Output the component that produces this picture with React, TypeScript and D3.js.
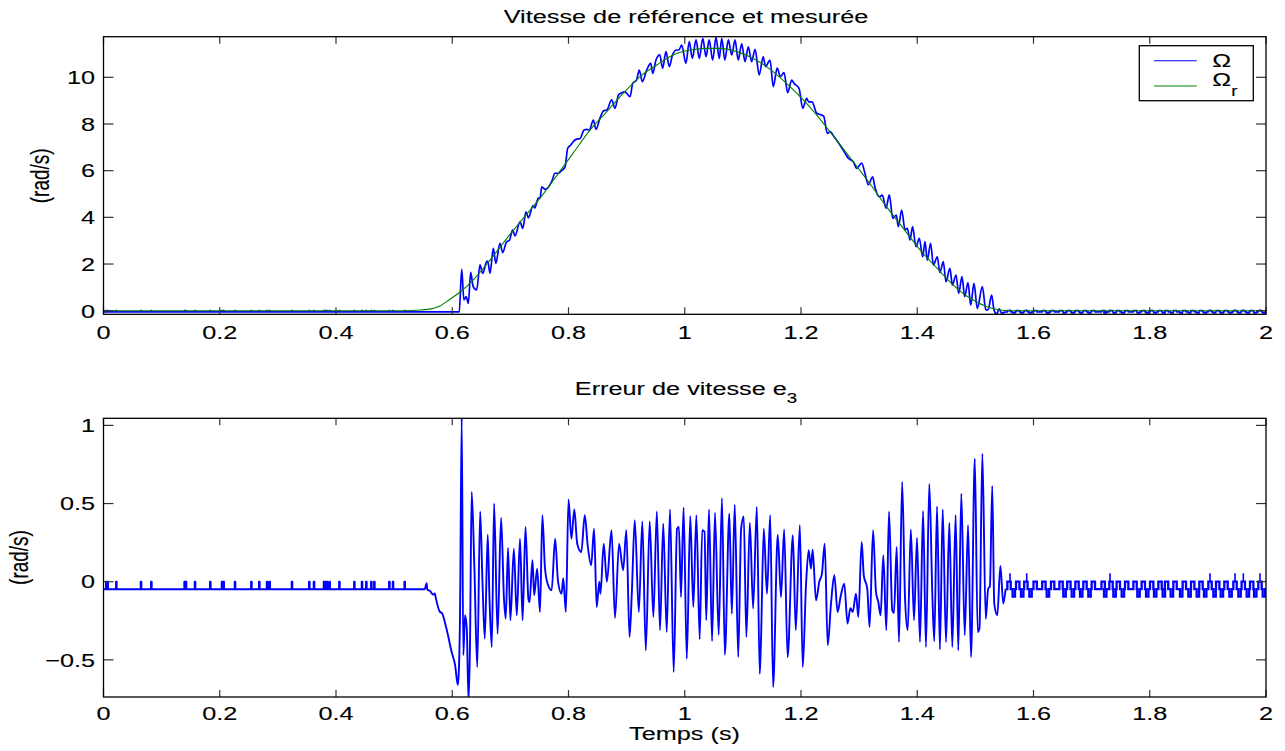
import React from "react";
import * as d3 from "d3";

type P = [number, number];

const W = 1285;
const H = 751;
const FONT = "'Liberation Sans', Arial, Helvetica, sans-serif";
const SX = 1.33; // horizontal stretch of the exported figure text

const X_TICKS = [0, 0.2, 0.4, 0.6, 0.8, 1, 1.2, 1.4, 1.6, 1.8, 2];
const X_TICK_LABELS = ["0", "0.2", "0.4", "0.6", "0.8", "1", "1.2", "1.4", "1.6", "1.8", "2"];
const TOP_Y_TICKS = [0, 2, 4, 6, 8, 10];
const TOP_Y_LABELS = ["0", "2", "4", "6", "8", "10"];
const BOT_Y_TICKS = [-0.5, 0, 0.5, 1];
const BOT_Y_LABELS = ["\u22120.5", "0", "0.5", "1"];

// Reference speed Omega_r (green)
const omegaRef: P[] = [
  [0, 0], [0.5, 0], [0.53, 0.01], [0.545, 0.03], [0.567, 0.1], [0.579, 0.2], [0.59, 0.39],
  [0.613, 0.79], [0.636, 1.315], [0.665, 2.17], [0.694, 3.1], [0.722, 3.96], [0.751, 4.82],
  [0.78, 5.8], [0.808, 6.75], [0.837, 7.74], [0.866, 8.53], [0.894, 9.31], [0.923, 10.03],
  [0.952, 10.53], [0.98, 10.96], [1.009, 11.17], [1.038, 11.24], [1.061, 11.24], [1.089, 11.1],
  [1.118, 10.81], [1.147, 10.34], [1.175, 9.74], [1.204, 9.03], [1.233, 8.2], [1.261, 7.31],
  [1.29, 6.38], [1.319, 5.43], [1.347, 4.46], [1.376, 3.53], [1.405, 2.6], [1.434, 1.82],
  [1.462, 1.1], [1.491, 0.53], [1.52, 0.17], [1.542, 0.03], [1.56, 0], [2, 0],
];

// Measured speed Omega (blue), active part (turning points)
const omegaActive: P[] = [
  [0.553, -0.05], [0.612, -0.05], [0.6163, 1.77], [0.62, 0.46], [0.624, 0.6], [0.6277, 0.32],
  [0.6317, 1.64], [0.636, 1.03], [0.642, 0.89], [0.6477, 1.96], [0.6523, 1.6], [0.659, 2.1],
  [0.661, 2.13], [0.665, 1.6], [0.6706, 2.67], [0.675, 2.03], [0.682, 2.89], [0.6868, 2.49],
  [0.6937, 2.96], [0.698, 3.0], [0.704, 3.46], [0.708, 3.2], [0.7166, 3.81], [0.7212, 3.53],
  [0.7269, 4.24], [0.731, 3.98], [0.739, 4.5], [0.742, 4.4], [0.748, 4.82], [0.751, 4.82],
  [0.754, 5.31], [0.76, 5.2], [0.771, 5.53], [0.7768, 5.89], [0.782, 5.89], [0.788, 6.0],
  [0.794, 6.15], [0.7986, 6.96], [0.804, 7.1], [0.808, 7.24], [0.814, 7.35], [0.82, 7.38],
  [0.8267, 7.74], [0.8313, 7.77], [0.836, 7.74], [0.8427, 8.17], [0.8473, 7.77], [0.854, 8.24],
  [0.86, 8.56], [0.866, 8.6], [0.8743, 9.03], [0.88, 8.67], [0.886, 9.24], [0.8915, 9.34],
  [0.897, 9.38], [0.906, 9.17], [0.9105, 9.74], [0.917, 9.88], [0.9218, 10.31], [0.927, 9.81],
  [0.9345, 10.31], [0.9414, 10.6], [0.945, 10.17], [0.9505, 10.74], [0.957, 10.96], [0.962, 10.39],
  [0.9677, 11.1], [0.9734, 10.46], [0.979, 10.96], [0.986, 11.17], [0.99, 11.17], [0.9947, 11.38],
  [1.002, 10.6], [1.0078, 11.53], [1.013, 10.81], [1.0194, 11.6], [1.025, 10.81], [1.031, 11.67],
  [1.0366, 10.88], [1.042, 11.6], [1.048, 10.74], [1.0538, 11.71], [1.0594, 10.81], [1.0636, 11.67],
  [1.069, 10.74], [1.075, 11.6], [1.0808, 10.96], [1.0865, 11.6], [1.092, 10.74], [1.098, 11.43],
  [1.1037, 10.67], [1.1094, 11.31], [1.115, 10.67], [1.121, 11.2], [1.128, 10.1], [1.135, 10.88],
  [1.139, 10.46], [1.1467, 10.74], [1.1523, 9.6], [1.159, 10.39], [1.1645, 10.03], [1.1708, 10.2],
  [1.177, 9.34], [1.184, 9.88], [1.188, 9.74], [1.1966, 9.53], [1.203, 8.67], [1.2098, 9.1],
  [1.213, 8.95], [1.219, 8.95], [1.227, 8.46], [1.2356, 8.38], [1.239, 8.34], [1.2453, 7.6],
  [1.25, 7.67], [1.257, 7.45], [1.267, 7.1], [1.276, 6.74], [1.2814, 6.53], [1.29, 6.38],
  [1.2958, 6.1], [1.3044, 6.32], [1.31, 5.89], [1.3158, 5.39], [1.3233, 5.74], [1.327, 5.31],
  [1.3348, 4.88], [1.34, 4.95], [1.3462, 4.39], [1.352, 4.96], [1.3578, 3.96], [1.364, 4.1],
  [1.3674, 3.6], [1.3732, 4.31], [1.379, 3.46], [1.383, 3.53], [1.3875, 3.03], [1.392, 3.6],
  [1.3978, 2.74], [1.4035, 3.1], [1.4094, 2.31], [1.4133, 2.96], [1.4173, 2.17], [1.423, 2.89],
  [1.4277, 1.96], [1.4345, 2.31], [1.439, 1.63], [1.4448, 2.1], [1.4494, 1.24], [1.4563, 1.82],
  [1.4603, 1.1], [1.4667, 1.53], [1.4713, 0.745], [1.477, 1.46], [1.4816, 0.6], [1.4873, 1.2],
  [1.492, 0.24], [1.4976, 1.17], [1.5033, 0.1], [1.512, 1.03], [1.518, 0.03], [1.522, 0.05],
  [1.528, 0.67], [1.532, 0.03], [1.5367, -0.14], [1.541, 0.08], [1.545, -0.1], [1.552, -0.05],
];

// Speed error e3 (blue), active part (turning points)
const e3Active: P[] = [
  [0.553, -0.049], [0.556, -0.01], [0.557, -0.05], [0.562, -0.06], [0.567, -0.083], [0.57, -0.075],
  [0.572, -0.11], [0.579, -0.194], [0.582, -0.2], [0.59, -0.3], [0.599, -0.45], [0.605, -0.535],
  [0.6095, -0.66], [0.611, -0.6], [0.6133, -0.237], [0.6163, 1.05], [0.619, -0.47], [0.622, -0.215],
  [0.625, -0.3], [0.628, -0.76], [0.6305, -0.41], [0.6334, 0.574], [0.638, 0.1], [0.643, -0.546],
  [0.648, 0.45], [0.652, 0.0], [0.656, -0.365], [0.661, 0.3], [0.664, -0.1], [0.668, -0.418],
  [0.672, 0.5], [0.678, -0.333], [0.684, 0.41], [0.689, -0.109], [0.692, -0.237], [0.696, 0.216],
  [0.7, -0.247], [0.706, 0.211], [0.711, -0.215], [0.7166, 0.275], [0.721, -0.247], [0.726, 0.35],
  [0.731, -0.109], [0.733, -0.13], [0.738, 0.137], [0.741, -0.087], [0.746, 0.083], [0.751, -0.194],
  [0.755, 0.425], [0.7596, 0.083], [0.765, -0.023], [0.771, -0.055], [0.777, 0.275], [0.782, 0.0],
  [0.788, -0.077], [0.791, 0.02], [0.7955, -0.194], [0.8, 0.527], [0.805, 0.275], [0.81, 0.463],
  [0.815, 0.243], [0.822, 0.19], [0.828, 0.425], [0.833, 0.233], [0.839, 0.105], [0.844, 0.339],
  [0.8485, -0.162], [0.853, 0.0], [0.855, -0.077], [0.8606, 0.243], [0.866, 0.0], [0.874, 0.329],
  [0.88, -0.232], [0.887, 0.243], [0.894, 0.073], [0.8995, 0.329], [0.905, -0.354], [0.909, -0.066],
  [0.914, 0.393], [0.921, -0.194], [0.927, 0.386], [0.933, -0.439], [0.9397, 0.386], [0.946, -0.226],
  [0.952, 0.45], [0.9574, -0.311], [0.963, 0.371], [0.969, -0.322], [0.9746, 0.463], [0.981, -0.578],
  [0.9867, 0.339], [0.99, 0.35], [0.9935, -0.098], [0.998, 0.473], [1.0035, -0.493], [1.0095, 0.42],
  [1.0147, -0.162], [1.02, 0.425], [1.0257, -0.369], [1.03, 0.329], [1.034, 0.32], [1.037, -0.247],
  [1.0417, 0.463], [1.047, -0.38], [1.052, 0.44], [1.0584, -0.339], [1.064, 0.535], [1.069, -0.467],
  [1.0767, 0.435], [1.081, -0.205], [1.086, 0.493], [1.092, -0.482], [1.097, 0.339], [1.1015, 0.418],
  [1.106, -0.354], [1.112, 0.378], [1.1176, -0.172], [1.124, 0.478], [1.129, -0.589], [1.131, -0.4],
  [1.136, 0.339], [1.1415, -0.077], [1.147, 0.425], [1.152, -0.674], [1.16, 0.3], [1.1656, -0.098],
  [1.171, 0.335], [1.177, -0.482], [1.186, 0.297], [1.191, -0.311], [1.198, 0.361], [1.203, -0.546],
  [1.2086, -0.023], [1.2132, 0.201], [1.2172, 0.083], [1.22, 0.207], [1.2258, -0.119], [1.2315, 0.0],
  [1.236, 0.05], [1.2408, 0.243], [1.246, -0.407], [1.2516, -0.141], [1.2573, 0.041], [1.263, -0.194],
  [1.268, -0.098], [1.2745, -0.013], [1.28, -0.268], [1.285, -0.17], [1.289, -0.194], [1.2946, -0.077],
  [1.2986, -0.226], [1.3044, 0.254], [1.308, 0.041], [1.314, -0.045], [1.318, -0.29], [1.324, 0.329],
  [1.329, -0.066], [1.333, -0.13], [1.337, -0.215], [1.3416, 0.169], [1.3468, -0.311], [1.3514, 0.45],
  [1.357, -0.183], [1.36, -0.2], [1.3646, 0.222], [1.3686, -0.386], [1.374, 0.638], [1.379, -0.109],
  [1.3836, -0.311], [1.389, 0.335], [1.3944, -0.247], [1.3996, 0.28], [1.4047, -0.386], [1.41, 0.452],
  [1.415, -0.418], [1.4207, 0.625], [1.426, -0.087], [1.4293, -0.381], [1.434, 0.482], [1.439, -0.433],
  [1.4438, 0.463], [1.4495, -0.386], [1.4552, 0.378], [1.4603, -0.418], [1.466, 0.425], [1.4706, -0.439],
  [1.4758, 0.563], [1.4817, -0.343], [1.4874, 0.361], [1.4925, -0.482], [1.499, 0.787], [1.504, -0.322],
  [1.507, -0.3], [1.512, 0.819], [1.5178, -0.237], [1.522, -0.045], [1.525, -0.03], [1.529, 0.612],
  [1.5325, -0.141], [1.5377, -0.215], [1.543, 0.1], [1.548, -0.14], [1.552, -0.048],
];

// Quantised idle parts (before motion / after stop)
const idleBase = -0.048;
const idleUpLevel = 0;
const idleDownLevel = -0.096;
const idleSpikeLevel = 0.054;
const preSpikes = [
  0.0043, 0.0066, 0.0215, 0.064, 0.0817, 0.139, 0.1414, 0.1569, 0.1832, 0.2033, 0.2062, 0.2257,
  0.2538, 0.2675, 0.2808, 0.2853, 0.3237, 0.3535, 0.3616, 0.3788, 0.381, 0.384, 0.3885, 0.4052,
  0.431, 0.4442, 0.4516, 0.4602, 0.4654, 0.4912, 0.4975, 0.5176,
];
const tailUp = [
  1.555, 1.57, 1.584, 1.6, 1.615, 1.63, 1.6445, 1.658, 1.672, 1.6857, 1.7, 1.717, 1.7305, 1.743,
  1.7574, 1.7718, 1.786, 1.8004, 1.8148, 1.826, 1.8406, 1.8566, 1.871, 1.8853, 1.9008, 1.914,
  1.9283, 1.9438, 1.958, 1.9725, 1.9868,
];
const tailDown = [
  1.564, 1.5785, 1.5928, 1.6227, 1.6513, 1.6657, 1.68, 1.6943, 1.7213, 1.7374, 1.7517, 1.7786,
  1.7936, 1.8073, 1.8222, 1.836, 1.852, 1.8664, 1.8807, 1.8933, 1.9094, 1.922, 1.9369, 1.9524,
  1.9667, 1.9794, 1.9943,
];
const tailSpikes = [1.5596, 1.5883, 1.7316, 1.9037, 1.9467, 1.961, 1.9897];

type Ev = { t: number; w: number; v: number };
function idleSeries(t0: number, t1: number, events: Ev[]): P[] {
  const pts: P[] = [[t0, idleBase]];
  events
    .slice()
    .sort((a, b) => a.t - b.t)
    .forEach((e) => {
      pts.push([e.t, idleBase], [e.t, e.v], [e.t + e.w, e.v], [e.t + e.w, idleBase]);
    });
  pts.push([t1, idleBase]);
  return pts;
}

const preEvents: Ev[] = preSpikes.map((t) => ({ t, w: 0.0012, v: idleUpLevel }));
const tailEvents: Ev[] = [
  ...tailUp.map((t) => ({ t, w: 0.0058, v: idleUpLevel })),
  ...tailDown.map((t) => ({ t, w: 0.0042, v: idleDownLevel })),
];
const preIdle = idleSeries(0, 0.553, preEvents);
const tailIdle = idleSeries(1.552, 2, tailEvents);

const X0 = 103.5;
const X1 = 1266;
const TOP = { y0: 36.7, y1: 314.3, dom: [-0.154, 11.74] as [number, number] };
const BOT = { y0: 418.3, y1: 697, dom: [-0.7377, 1.0454] as [number, number] };

function T(props: {
  x: number;
  y: number;
  anchor?: string;
  size?: number;
  rotate?: boolean;
  children: React.ReactNode;
}) {
  const { x, y, anchor = "middle", size = 19, rotate = false, children } = props;
  const tr = `translate(${x},${y}) scale(${SX},1)` + (rotate ? " rotate(-90)" : "");
  return (
    <text
      transform={tr}
      textAnchor={anchor as any}
      fontSize={size}
      fontFamily={FONT}
      fill="#000"
      stroke="#000"
      strokeWidth={0.12}
    >
      {children}
    </text>
  );
}

function Axes(props: {
  y0: number;
  y1: number;
  yScale: d3.ScaleLinear<number, number>;
  xScale: d3.ScaleLinear<number, number>;
  yTicks: number[];
  yLabels: string[];
  labelBaseline: number;
}) {
  const { y0, y1, yScale, xScale, yTicks, yLabels, labelBaseline } = props;
  return (
    <g>
      {X_TICKS.map((t, i) => (
        <g key={"xt" + i}>
          <line x1={xScale(t)} x2={xScale(t)} y1={y1} y2={y1 - 7} stroke="#333" strokeWidth={1.2} />
          <line x1={xScale(t)} x2={xScale(t)} y1={y0} y2={y0 + 7} stroke="#333" strokeWidth={1.2} />
          <T x={xScale(t)} y={labelBaseline}>{X_TICK_LABELS[i]}</T>
        </g>
      ))}
      {yTicks.map((v, i) => (
        <g key={"yt" + i}>
          <line x1={X0} x2={X0 + 10} y1={yScale(v)} y2={yScale(v)} stroke="#333" strokeWidth={1.2} />
          <line x1={X1} x2={X1 - 10} y1={yScale(v)} y2={yScale(v)} stroke="#333" strokeWidth={1.2} />
          <T x={95} y={yScale(v) + 6.8} anchor="end">{yLabels[i]}</T>
        </g>
      ))}
      <rect x={X0} y={y0} width={X1 - X0} height={y1 - y0} fill="none" stroke="#000" strokeWidth={1.3} />
    </g>
  );
}

export default function App() {
  const x = d3.scaleLinear().domain([0, 2]).range([X0, X1]);
  const yTop = d3.scaleLinear().domain(TOP.dom).range([TOP.y1, TOP.y0]);
  const yBot = d3.scaleLinear().domain(BOT.dom).range([BOT.y1, BOT.y0]);

  const topLin = d3.line<P>().x((d) => x(d[0])).y((d) => yTop(d[1]));
  const topSmooth = d3.line<P>().x((d) => x(d[0])).y((d) => yTop(d[1])).curve(d3.curveMonotoneX);
  const botLin = d3.line<P>().x((d) => x(d[0])).y((d) => yBot(d[1]));
  const botSmooth = d3.line<P>().x((d) => x(d[0])).y((d) => yBot(d[1])).curve(d3.curveMonotoneX);

  const blueTop = { fill: "none", stroke: "#0000ff", strokeWidth: 1.7, strokeLinejoin: "round" as const };
  const blueBot = { fill: "none", stroke: "#0000ff", strokeWidth: 1.9, strokeLinejoin: "round" as const };
  const blueTail = { fill: "none", stroke: "#0000ff", strokeWidth: 2.3, strokeLinejoin: "miter" as const };

  return (
    <svg
      width={W}
      height={H}
      viewBox={`0 0 ${W} ${H}`}
      style={{ position: "absolute", left: 0, top: 0, background: "#fff" }}
    >
      <defs>
        <clipPath id="clipTop">
          <rect x={X0} y={TOP.y0} width={X1 - X0} height={TOP.y1 - TOP.y0} />
        </clipPath>
        <clipPath id="clipBot">
          <rect x={X0} y={BOT.y0} width={X1 - X0} height={BOT.y1 - BOT.y0} />
        </clipPath>
      </defs>
      <rect x={0} y={0} width={W} height={H} fill="#fff" />

      {/* Top plot */}
      <T x={686} y={22.7}>Vitesse de référence et mesurée</T>
      <g clipPath="url(#clipTop)">
        <path d={topLin(preIdle) || ""} {...blueTop} />
        <path d={topSmooth(omegaActive) || ""} {...blueTop} />
        <path d={topLin(tailIdle) || ""} {...blueTop} />
        {tailSpikes.map((t, i) => (
          <line key={"ts" + i} x1={x(t)} x2={x(t)} y1={yTop(idleUpLevel)} y2={yTop(idleSpikeLevel)} stroke="#0000ff" strokeWidth={1.2} />
        ))}
        <path d={topSmooth(omegaRef) || ""} fill="none" stroke="#008000" strokeWidth={1.1} />
      </g>
      <Axes y0={TOP.y0} y1={TOP.y1} yScale={yTop} xScale={x} yTicks={TOP_Y_TICKS} yLabels={TOP_Y_LABELS} labelBaseline={339.3} />
      <T x={48.5} y={175.8} rotate>(rad/s)</T>

      {/* Legend */}
      <rect x={1139.3} y={45.7} width={114} height={55} fill="#fff" stroke="#000" strokeWidth={1.3} />
      <line x1={1154} x2={1196.7} y1={60.7} y2={60.7} stroke="#0000ff" strokeWidth={1.1} />
      <line x1={1154} x2={1196.7} y1={86} y2={86} stroke="#008000" strokeWidth={1.1} />
      <T x={1212.3} y={66.7} anchor="start">Ω</T>
      <T x={1212.3} y={86} anchor="start">
        Ω<tspan dy={9.5} fontSize={14}>r</tspan>
      </T>

      {/* Bottom plot */}
      <T x={686} y={395}>
        Erreur de vitesse e<tspan dy={8.3} fontSize={14}>3</tspan>
      </T>
      <g clipPath="url(#clipBot)">
        <path d={botLin(preIdle) || ""} {...blueBot} />
        <path d={botSmooth(e3Active) || ""} {...blueBot} />
        <path d={botLin(tailIdle) || ""} {...blueTail} />
        {tailSpikes.map((t, i) => (
          <line key={"bs" + i} x1={x(t)} x2={x(t)} y1={yBot(idleUpLevel)} y2={yBot(idleSpikeLevel)} stroke="#0000ff" strokeWidth={1.6} />
        ))}
      </g>
      <Axes y0={BOT.y0} y1={BOT.y1} yScale={yBot} xScale={x} yTicks={BOT_Y_TICKS} yLabels={BOT_Y_LABELS} labelBaseline={720} />
      <T x={27.8} y={557.5} rotate>(rad/s)</T>
      <T x={684.5} y={740}>Temps (s)</T>
    </svg>
  );
}
